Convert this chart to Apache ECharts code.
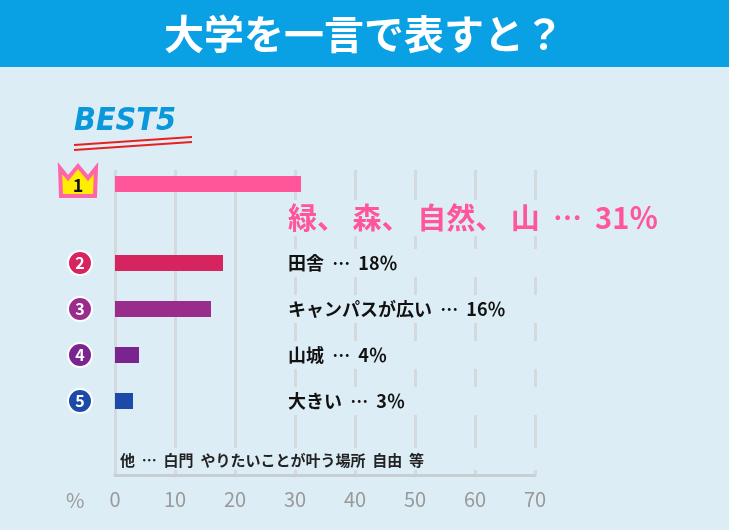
<!DOCTYPE html><html><head><meta charset="utf-8">
<script src="https://cdn.jsdelivr.net/npm/echarts@6/dist/echarts.min.js"></script>
<style>html,body{margin:0;background:#dcedf5}#c{width:729px;height:530px}</style></head><body><div id="c"></div><script>
const categories=['緑、 森、 自然、 山','田舎','キャンパスが広い','山城','大きい'];
const values=[31,18,16,4,3];
const barColors=['#ff5599','#d6245e','#9a2c8c','#7a2490','#1c4aa8'];
const ticks=[0,10,20,30,40,50,60,70];
const F='"Noto Sans CJK JP",sans-serif';
const chart=echarts.init(document.getElementById('c'));
const xa=(g,show)=>({type:'value',gridIndex:g,min:0,max:70,interval:10,show:show,
 axisLine:{show:show,lineStyle:{color:'#c8cfd3',width:3}},axisTick:{show:false},
 splitLine:{show:show,lineStyle:{color:'#d3d9dc',width:3}},
 axisLabel:{show:show,color:'#999',fontSize:20,fontFamily:F,margin:14}});
const g=[];
const rankColors=['#d6245e','#9a2c8c','#7a2490','#1c4aa8'];
[1,2,3,4].forEach(i=>{
 const y=263+(i-1)*46;
 g.push({type:'circle',z:100,shape:{cx:80,cy:y,r:12},style:{fill:rankColors[i-1],stroke:'#fff',lineWidth:2}});
 g.push({type:'text',z:101,x:80,y:y,style:{text:String(i+1),fill:'#fff',font:'bold 16px '+F,align:'center',verticalAlign:'middle'}});
 g.push({type:'rect',z:99,shape:{x:284,y:y-14,width:330,height:28},style:{fill:'#dcedf5'}});
 g.push({type:'text',z:100,x:288,y:y,style:{text:categories[i]+'  …  '+values[i]+'％',fill:'#111',font:'bold 18px '+F,verticalAlign:'middle'}});
});
g.push({type:'rect',z:100,shape:{x:0,y:0,width:729,height:67},style:{fill:'#0aa0e4'}});
g.push({type:'text',z:101,x:364,y:34,style:{text:'大学を一言で表すと？',fill:'#fff',font:'bold 40px '+F,align:'center',verticalAlign:'middle'}});
g.push({type:'text',z:100,x:74,y:122,style:{text:'BEST5',fill:'#0a98dc',font:'italic bold 32px "DejaVu Sans Condensed",sans-serif',verticalAlign:'middle'}});
g.push({type:'line',z:100,shape:{x1:74,y1:145,x2:192,y2:137},style:{stroke:'#e82020',lineWidth:2}});
g.push({type:'line',z:100,shape:{x1:74,y1:150,x2:192,y2:142},style:{stroke:'#e82020',lineWidth:2}});
g.push({type:'polygon',z:100,shape:{points:[[60,168],[68,178],[78,166],[88,178],[96,168],[95,196],[61,196]]},style:{fill:'#ffee00',stroke:'#ff66aa',lineWidth:4}});
g.push({type:'text',z:101,x:78,y:185,style:{text:'1',fill:'#111',font:'bold 18px '+F,align:'center',verticalAlign:'middle'}});
g.push({type:'rect',z:99,shape:{x:284,y:200,width:440,height:36},style:{fill:'#dcedf5'}});
g.push({type:'text',z:100,x:288,y:218,style:{text:categories[0]+'  …  '+values[0]+'％',fill:'#ff5599',font:'bold 29px '+F,verticalAlign:'middle'}});
g.push({type:'rect',z:99,shape:{x:118,y:448,width:470,height:22},style:{fill:'#dcedf5'}});
g.push({type:'text',z:100,x:120,y:460,style:{text:'他  …  白門  やりたいことが叶う場所  自由  等',fill:'#222',font:'bold 15px '+F,verticalAlign:'middle'}});
g.push({type:'text',z:100,x:66,y:500,style:{text:'%',fill:'#999',font:'20px '+F,verticalAlign:'middle'}});
chart.setOption({
 animation:false,
 grid:[{left:115,right:194,top:170,bottom:55},{left:115,right:194,top:176,height:16},{left:115,right:194,top:240,height:184}],
 xAxis:[xa(0,true),xa(1,false),xa(2,false)],
 yAxis:[{type:'category',gridIndex:0,show:false,data:['a']},
  {type:'category',gridIndex:1,show:false,data:[categories[0]]},
  {type:'category',gridIndex:2,show:false,inverse:true,data:categories.slice(1)}],
 series:[
  {type:'bar',xAxisIndex:1,yAxisIndex:1,barWidth:16,data:[{value:values[0],itemStyle:{color:barColors[0]}}]},
  {type:'bar',xAxisIndex:2,yAxisIndex:2,barWidth:16,data:values.slice(1).map((v,i)=>({value:v,itemStyle:{color:barColors[i+1]}}))}
 ],
 graphic:g
});
</script></body></html>
